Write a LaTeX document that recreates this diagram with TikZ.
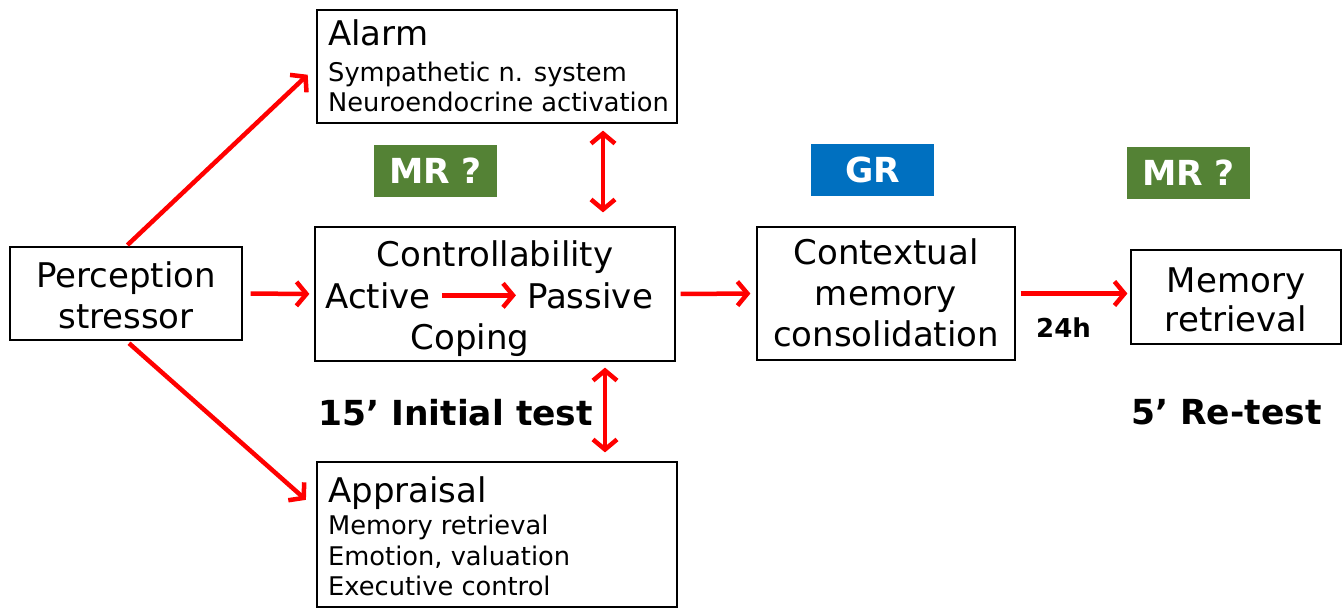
\documentclass[tikz,border=0pt]{standalone}
\usepackage{fontspec}
\setmainfont{DejaVu Sans}
\usetikzlibrary{arrows.meta}
\definecolor{mrgreen}{HTML}{548235}
\definecolor{grblue}{HTML}{0070C0}
\newcommand{\bigtxt}{\fontsize{34}{41}\selectfont}
\newcommand{\smalltxt}{\fontsize{25.7}{30}\selectfont}

\begin{document}
\begin{tikzpicture}[x=1pt,y=-1pt,
  box/.style={draw,line width=1.2pt,inner sep=0pt},
  txt/.style={anchor=base,inner sep=0pt,font=\bigtxt},
  head/.style={anchor=base west,inner sep=0pt,font=\bigtxt},
  sub/.style={anchor=base west,inner sep=0pt,font=\smalltxt},
  redarrow/.style={red,line width=4.5pt,-{Straight Barb[length=10pt,width=24pt]}},
  dblarrow/.style={red,line width=4.5pt,{Straight Barb[length=10pt,width=24pt]}-{Straight Barb[length=10pt,width=24pt]}},
  tag/.style={text=white,font=\bfseries\fontsize{34.5}{40}\selectfont,minimum width=123pt,minimum height=52pt,inner sep=0pt},
  label/.style={anchor=base west,inner sep=0pt,font=\bfseries\fontsize{34.5}{40}\selectfont}]
  \useasboundingbox (0,0) rectangle (1344,608);

  \node[box,minimum width=232pt,minimum height=93pt] (percep) at (126,293.5) {};
  \node[txt] (percA) at (126,287) {Perception};
  \node[txt] (percB) at (126,328) {stressor};

  \node[box,minimum width=360pt,minimum height=113pt] (alarm) at (497,66.5) {};
  \node[head] (alarmA) at (328,45) {Alarm};
  \node[sub] (alarmB) at (328,81) {Sympathetic n. system};
  \node[sub] (alarmC) at (328,111) {Neuroendocrine activation};

  \node[box,minimum width=360pt,minimum height=145pt] (apprais) at (497,534.5) {};
  \node[head] (appraisA) at (328,502) {Appraisal};
  \node[sub] (appraisB) at (328,534) {Memory retrieval};
  \node[sub] (appraisC) at (328,565) {Emotion, valuation};
  \node[sub] (appraisD) at (328,595) {Executive control};

  \node[box,minimum width=360pt,minimum height=134pt] (ctrl) at (495,294) {};
  \node[txt] (ctrltxt) at (495,266) {Controllability};
  \node[txt,inner sep=11pt] (active) at (378,308) {Active};
  \node[txt,inner sep=11pt] (passive) at (590,308) {Passive};
  \node[txt] (coping) at (470,349) {Coping};

  \node[box,minimum width=258pt,minimum height=133pt] (context) at (886,293.5) {};
  \node[txt] (contextA) at (886,264) {Contextual};
  \node[txt] (contextB) at (886,305) {memory};
  \node[txt] (contextC) at (886,346) {consolidation};

  \node[box,minimum width=210pt,minimum height=94pt] (memret) at (1236,297) {};
  \node[txt] (memretA) at (1236,292) {Memory};
  \node[txt] (memretB) at (1236,331) {retrieval};

  \node[tag,fill=mrgreen] (mr1) at (435.5,171) {MR ?};
  \node[tag,fill=grblue] (gr) at (872.5,169.5) {GR};
  \node[tag,fill=mrgreen] (mr2) at (1188.5,172.5) {MR ?};

  \node[label] (initial) at (318,425) {15’ Initial test};
  \node[label] (retest) at (1131,424) {5’ Re-test};
  \node[label,font=\bfseries\fontsize{26}{30}\selectfont] (hours) at (1036,337) {24h};

  \draw[redarrow,shorten <=2pt,shorten >=12pt] (percep.north) -- (alarm.west);
  \draw[redarrow,shorten <=8pt,shorten >=5pt] (percep.east) -- (ctrl.west);
  \draw[redarrow,shorten <=4pt,shorten >=14pt] (percep.south) -- (apprais.172);
  \draw[redarrow] (active) -- (passive);
  \draw[redarrow,shorten <=5pt,shorten >=6pt] (ctrl.east) -- (context.west);
  \draw[redarrow,shorten <=5pt,shorten >=3pt] (context.east) -- (context.east -| memret.west);
  \draw[dblarrow,shorten <=7pt,shorten >=14pt] ([xshift=106pt]alarm.south) -- ([xshift=108pt]ctrl.north);
  \draw[dblarrow,shorten <=6pt,shorten >=9pt] ([xshift=110pt]ctrl.south) -- ([xshift=108pt]apprais.north);
\end{tikzpicture}
\end{document}
